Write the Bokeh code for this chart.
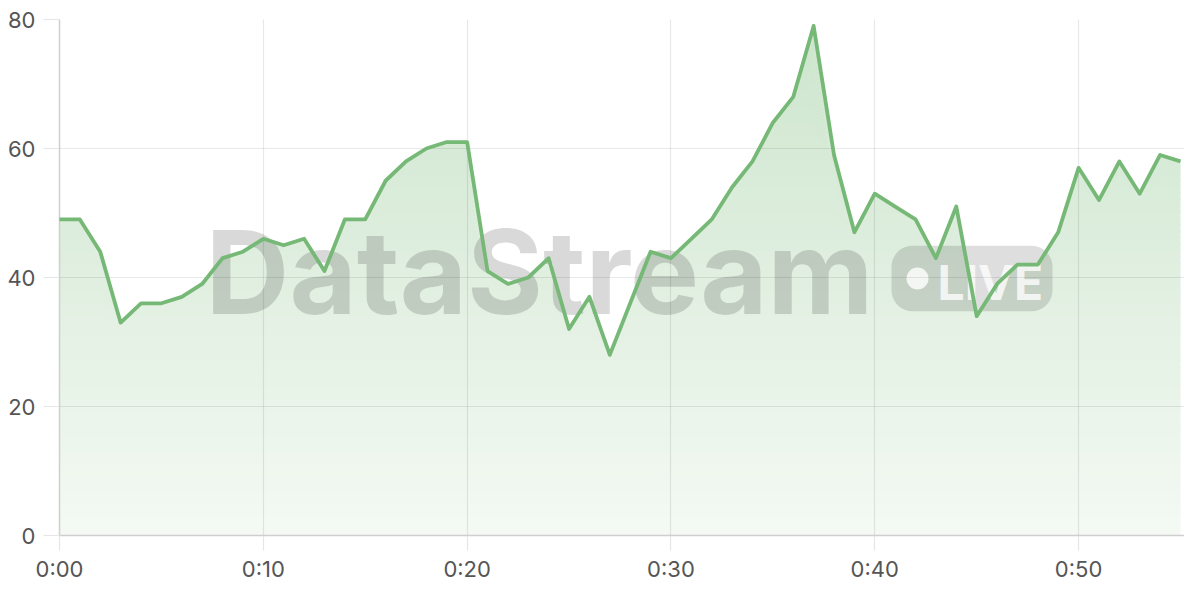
import numpy as np
from bokeh.plotting import figure
from bokeh.models import Range1d, FixedTicker
from bokeh.core.properties import value
from bokeh.embed import file_html
from bokeh.resources import INLINE

# ---- data ----
minutes = list(range(56))
values = [49, 49, 44, 33, 36, 36, 37, 39, 43, 44,
          46, 45, 46, 41, 49, 49, 55, 58, 60, 61,
          61, 41, 39, 40, 43, 32, 37, 28, 36, 44,
          43, 46, 49, 54, 58, 64, 68, 79, 59, 47,
          53, 51, 49, 43, 51, 34, 39, 42, 42, 47,
          57, 52, 58, 53, 59, 58]
x_ticks = [0, 10, 20, 30, 40, 50]
x_tick_labels = ["0:00", "0:10", "0:20", "0:30", "0:40", "0:50"]
y_ticks = [0, 20, 40, 60, 80]
watermark_title = "DataStream"
watermark_badge = "LIVE"

GREEN = (118, 184, 118)
GREEN_HEX = "#76b876"
FONT = "Inter"

W, H = 1184, 584
LEFT, TOP, BOTTOM = 59, 19, 539
PXM = (1180 - 59) / 55.0            # pixels per minute
XMAX = (W - LEFT) / PXM
PYU = (BOTTOM - TOP) / 80.0          # pixels per unit

p = figure(width=W, height=H, output_backend="svg", toolbar_location=None,
           x_range=Range1d(0, XMAX), y_range=Range1d(0, 80),
           min_border_left=LEFT, min_border_right=0, min_border_top=TOP,
           min_border_bottom=H - BOTTOM)
p.outline_line_color = None
p.background_fill_color = "white"
p.border_fill_color = "white"

# axes
for ax in (p.xaxis[0], p.yaxis[0]):
    ax.axis_line_color = "#cfcfcf"
    ax.axis_line_width = 1.5
    ax.major_tick_line_color = "#e6e6e6"
    ax.major_tick_line_width = 1.2
    ax.major_tick_in = 0
    ax.minor_tick_line_color = None
    ax.major_label_text_font = FONT
    ax.major_label_text_font_size = "22px"
    ax.major_label_text_color = "#555555"
p.xaxis.ticker = FixedTicker(ticks=x_ticks)
p.xaxis.major_label_overrides = {t: l for t, l in zip(x_ticks, x_tick_labels)}
p.xaxis.major_tick_out = 15
p.xaxis.major_label_standoff = 5
p.yaxis.ticker = FixedTicker(ticks=y_ticks)
p.yaxis.major_tick_out = 16
p.yaxis.major_label_standoff = 8

p.xgrid.ticker = FixedTicker(ticks=x_ticks)
p.ygrid.ticker = FixedTicker(ticks=y_ticks)
for g in (p.xgrid[0], p.ygrid[0]):
    g.grid_line_color = "black"
    g.grid_line_alpha = 0.085
    g.grid_line_width = 1.2
    g.level = "annotation"

# ---- gradient area fill (opaque bands, blended white -> green) ----
vals = np.array(values, dtype=float)
def band_color(h):
    a = 0.08 + 0.0036 * h
    r, g_, b = [int(round(255 + (c - 255) * a)) for c in GREEN]
    return "#%02x%02x%02x" % (r, g_, b)

for lvl in range(0, 80):
    p.varea(x=minutes, y1=np.minimum(vals, lvl), y2=np.minimum(vals, lvl + 1.3),
            fill_color=band_color(lvl + 0.5), fill_alpha=1.0)

# ---- watermark (pixel layout converted to data units) ----
def dx(px):
    return (px - LEFT) / PXM
def dy(py):
    return (BOTTOM - py) / PYU

p.text(x=[dx(539)], y=[dy(316 - 43)], text=[watermark_title], text_align="center",
       text_baseline="alphabetic", text_font=value(FONT), text_font_style="bold",
       text_font_size="116px", text_color="black", text_alpha=0.15)

# rounded badge outline
bl, br, bt, bb, rad = 891, 1052, 247, 313, 21
pts = []
for cx, cy, a0 in [(br - rad, bt + rad, -90), (br - rad, bb - rad, 0),
                   (bl + rad, bb - rad, 90), (bl + rad, bt + rad, 180)]:
    for a in np.linspace(a0, a0 + 90, 10):
        pts.append((cx + rad * np.cos(np.radians(a)), cy + rad * np.sin(np.radians(a))))
p.patch([dx(q[0]) for q in pts], [dy(q[1]) for q in pts], fill_color="black",
        fill_alpha=0.13, line_color=None)
p.scatter(x=[dx(917)], y=[dy(280)], size=22, fill_color="white", fill_alpha=0.8,
          line_color=None)
p.text(x=[dx(937)], y=[dy(298 - 14)], text=[watermark_badge], text_align="left",
       text_baseline="alphabetic", text_font=value(FONT), text_font_style="bold",
       text_font_size="48px", text_color="white", text_alpha=0.8)

# ---- line ----
p.line(minutes, values, line_color=GREEN_HEX, line_width=3.8, line_join="round",
       level="overlay")

open("out.html", "w").write(file_html(p, INLINE))
